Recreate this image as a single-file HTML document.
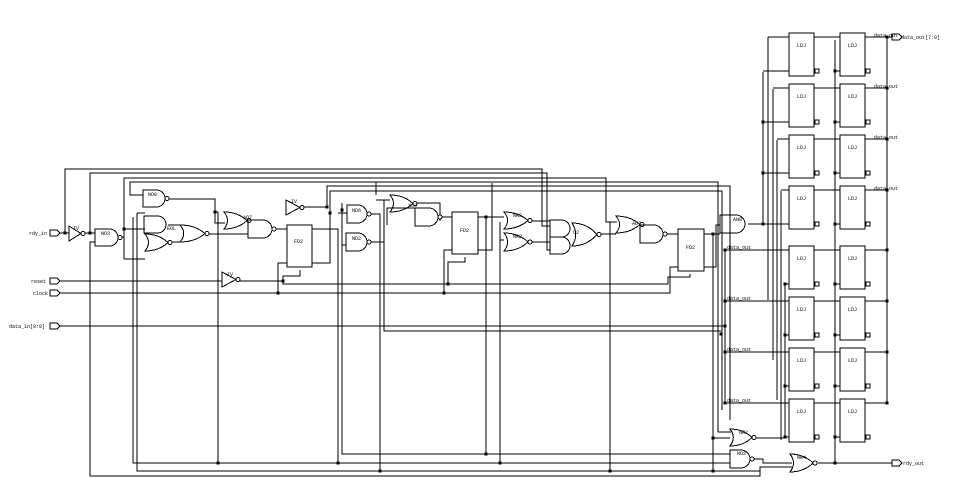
<!DOCTYPE html>
<html><head><meta charset="utf-8"><style>
html,body{margin:0;padding:0;background:#fff;}
svg{display:block;}
text{font-family:"Liberation Mono",monospace;font-size:5px;fill:#000;}
</style></head><body>
<svg id="s" width="974" height="494" viewBox="0 0 974 494" xmlns="http://www.w3.org/2000/svg">
<g id="g" fill="none" stroke="#000" stroke-width="1" shape-rendering="crispEdges"></g>
<g id="t">
<text x="29" y="235">rdy_in</text>
<text x="31" y="283">reset</text>
<text x="33" y="295">clock</text>
<text x="9" y="328">data_in[0:0]</text>
<text x="901" y="39" font-size="6">data_out[7:0]</text>
<text x="903" y="465" font-size="6">rdy_out</text>
<text x="73" y="230">IV</text><text x="101" y="235">NO3</text><text x="148" y="196">NO8</text>
<text x="167" y="230">EOL</text><text x="243" y="219">AO7</text><text x="291" y="203">IV</text>
<text x="294" y="243">FD2</text><text x="227" y="276">IV</text>
<text x="352" y="212">ND6</text><text x="352" y="240">ND2</text><text x="408" y="207">XO3</text>
<text x="460" y="232">FD2</text><text x="513" y="217">NR2</text><text x="513" y="238">NR2</text>
<text x="573" y="234">O2</text><text x="632" y="225">AO7</text><text x="686" y="249">FD2</text>
<text x="733" y="221">AN8</text><text x="739" y="434">NR2</text><text x="737" y="455">NO2</text><text x="797" y="459">NR4</text>
</g>
</svg>
<script>
var g=document.getElementById('g'),t=document.getElementById('t'),NS='http://www.w3.org/2000/svg';
function el(n,a,p){var e=document.createElementNS(NS,n);for(var k in a)e.setAttribute(k,a[k]);(p||g).appendChild(e);return e;}
function L(pts){el('polyline',{points:pts.map(function(p){return p.join(',')}).join(' ')});}
function D(x,y){el('rect',{x:x-1.5,y:y-1.5,width:3,height:3,fill:'#000',stroke:'none'});}
function B(x,y){el('circle',{cx:x,cy:y,r:2,fill:'#fff'});}
function AND(x,y,w,h,b){var r=h/2;el('path',{d:'M'+x+' '+y+'H'+(x+w-r)+'A'+r+' '+r+' 0 0 1 '+(x+w-r)+' '+(y+h)+'H'+x+'Z'});if(b)B(x+w+2,y+r);}
function OR(x,y,w,h,b){el('path',{d:'M'+x+' '+y+'Q'+(x+w*.6)+' '+y+' '+(x+w)+' '+(y+h/2)+'Q'+(x+w*.6)+' '+(y+h)+' '+x+' '+(y+h)+'Q'+(x+w*.3)+' '+(y+h/2)+' '+x+' '+y+'Z'});if(b)B(x+w+2,y+h/2);}
function BUF(x,y,w,h){el('path',{d:'M'+x+' '+y+'L'+(x+w)+' '+(y+h/2)+'L'+x+' '+(y+h)+'Z'});B(x+w+2,y+h/2);}
function BOX(x,y,w,h){el('rect',{x:x,y:y,width:w,height:h,fill:'#fff'});}
function PORT(x,y){el('path',{d:'M'+x+' '+(y-3)+'H'+(x+7)+'L'+(x+10)+' '+y+'L'+(x+7)+' '+(y+3)+'H'+x+'Z'});}
// ports
PORT(50,233);PORT(50,281);PORT(50,293);PORT(50,326);PORT(892,463);PORT(892,37);
// input nets
L([[60,233],[69,233]]);D(65,233);L([[65,233],[65,169],[542,169],[542,226],[550,226]]);
L([[85,233],[95,233]]);D(90,233);L([[90,233],[90,173],[547,173],[547,250],[550,250]]);
L([[95,242],[90,242],[90,476],[760,476],[760,467],[792,467]]);
L([[120,237],[124,237]]);L([[124,259],[124,178],[606,178],[606,222],[617,222]]);
D(124,229);L([[124,229],[145,229]]);L([[124,259],[145,259]]);
L([[143,195],[130,195],[130,182],[718,182],[718,432],[731,432]]);
L([[133,217],[133,463],[730,463]]);L([[137,213],[145,213]]);L([[137,213],[137,471],[760,471]]);
L([[60,281],[222,281]]);L([[239,281],[283,281]]);D(283,281);L([[283,281],[283,276],[300,276],[300,270]]);
L([[283,281],[283,284],[448,284],[668,284],[668,277],[690,277],[690,274]]);D(448,284);
L([[448,284],[448,262],[465,262],[465,257]]);
L([[60,293],[670,293],[670,267],[678,267]]);D(278,293);L([[278,293],[278,263],[287,263]]);
D(444,293);L([[444,293],[444,250],[452,250]]);
L([[60,326],[725,326]]);D(725,326);D(721,334);
L([[384,200],[384,331],[721,331]]);
// internal nets
L([[167,199],[215,199],[215,223],[225,223]]);D(215,212);L([[215,212],[218,212],[218,463]]);D(218,463);
L([[168,225],[180,225]]);L([[170,242],[182,242]]);L([[208,234],[248,234]]);
L([[275,229],[287,229]]);L([[303,207],[327,207],[327,186],[730,186],[730,420]]);D(327,207);
L([[312,263],[330,263],[330,191],[722,191],[722,410]]);D(330,213);
L([[312,229],[338,229],[338,463]]);D(338,463);L([[338,213],[347,213]]);
L([[342,203],[342,245],[346,245]]);L([[342,245],[342,454],[730,454]]);D(342,210);
L([[369,214],[380,214],[380,471]]);D(380,471);L([[369,242],[384,242]]);
L([[376,195],[376,182]]);L([[390,200],[376,200]]);
L([[387,225],[387,208],[415,208]]);L([[415,203],[440,203],[440,221]]);
L([[441,217],[452,217]]);L([[478,217],[504,217]]);D(486,217);L([[486,217],[486,454]]);D(486,454);
L([[478,250],[492,250],[492,183]]);L([[500,222],[500,463],[500,463]]);D(500,463);L([[500,240],[504,240]]);
L([[531,221],[550,221]]);L([[531,242],[550,242]]);
L([[600,234],[616,234]]);L([[643,225],[640,225]]);L([[666,234],[678,234]]);
L([[610,222],[610,471]]);D(610,471);
L([[704,234],[713,234],[713,471]]);D(713,471);D(713,234);L([[713,234],[720,234]]);
L([[704,267],[716,267],[716,225],[720,225]]);
// AN8 outputs to LD column
L([[748,224],[763,224]]);
// right side LDJ
var tops=[33,84,135,186,246,297,348,399];
var vx=[768,773,777,781,791,795,799,803];
for(var i=0;i<8;i++){var y=tops[i];
 BOX(789,y,25,43);BOX(840,y,25,43);
 L([[814,y+4],[840,y+4]]);L([[865,y+4],[887,y+4]]);D(887,y+4);
 L([[835,y+38],[840,y+38]]);D(835,y+38);
 el('rect',{x:815,y:y+36,width:4,height:4});el('rect',{x:866,y:y+36,width:4,height:4});
 if(i<4){L([[vx[i],y+4],[789,y+4]]);L([[763,y+38],[789,y+38]]);if(i>0)D(763,y+38);}
 else{L([[725,y+4],[789,y+4]]);D(725,y+4);L([[785,y+38],[789,y+38]]);D(785,y+38);}
}
L([[768,37],[768,300]]);L([[773,89],[773,360]]);L([[777,140],[777,400]]);L([[781,191],[781,440]]);
L([[763,72],[763,224]]);L([[725,250],[725,403]]);
L([[785,284],[785,438]]);L([[835,40],[835,463]]);L([[887,37],[887,403]]);
L([[887,37],[892,37]]);
// bottom gates
OR(730,429,22,17,true);L([[756,438],[785,438]]);D(713,438);L([[713,438],[730,438]]);
AND(730,450,20,18,true);L([[754,459],[763,459],[763,463],[792,463]]);
OR(790,454,23,18,true);L([[818,463],[892,463]]);D(835,463);
// left gates
BUF(69,226,12,15);AND(95,229,23,17,true);
AND(143,190,22,17,true);AND(144,216,22,17);OR(145,234,23,17,true);
OR(180,225,25,17,true);OR(224,212,23,17,true);AND(248,220,24,18,true);
BUF(286,200,14,15);BOX(287,225,25,42);BUF(222,272,14,15);
AND(347,205,20,18,true);AND(346,233,21,18,true);
OR(390,195,23,17,true);AND(415,208,23,18,true);BOX(452,212,26,42);
OR(504,212,24,17,true);OR(504,233,24,18,true);
AND(550,220,20,17);AND(550,237,20,17);OR(572,223,25,23,true);
OR(616,216,24,17,true);AND(640,225,23,18,true);BOX(678,229,26,42);
AND(720,215,25,18);
// LDJ labels (created last so they're on top)
for(var i=0;i<8;i++){var y=tops[i];
 var a=el('text',{x:797,y:y+14,stroke:'none'},t);a.textContent='LDJ';
 var b=el('text',{x:848,y:y+14,stroke:'none'},t);b.textContent='LDJ';
 var c=el('text',{x:i<4?874:727,y:i<4?y+4:y+3,stroke:'none'},t);c.textContent='data_out'+(i<4?'':'');
}
</script>
</body></html>
